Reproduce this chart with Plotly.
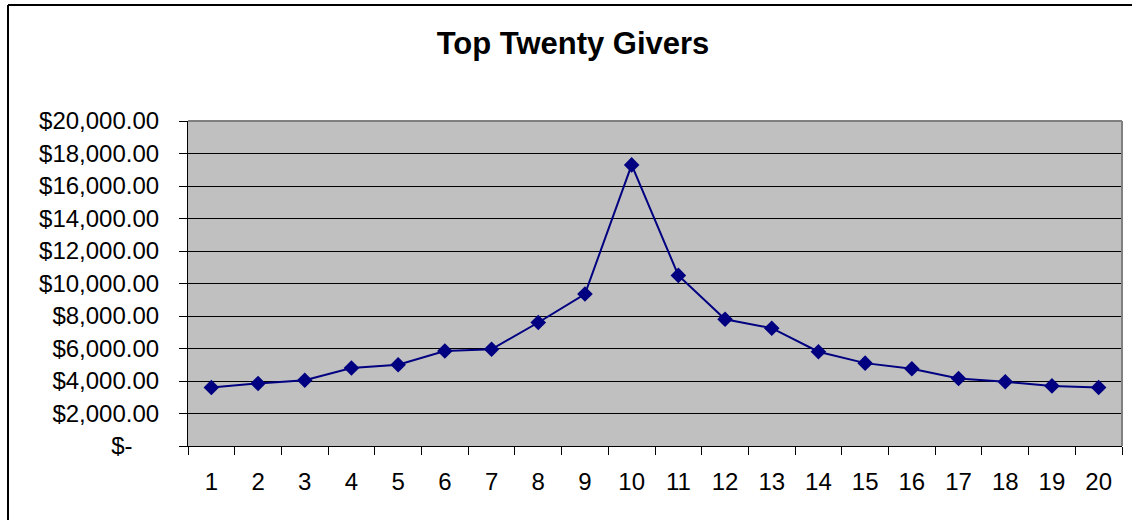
import plotly.graph_objects as go

# Gift totals for the top twenty givers, in giver order
givers = [str(i) for i in range(1, 21)]
amounts = [3600, 3850, 4050, 4800, 5000, 5850, 5950, 7600, 9350, 17300,
           10500, 7800, 7250, 5800, 5100, 4750, 4150, 3950, 3700, 3600]

# Value axis ticks in accounting style
y_ticks = list(range(0, 20001, 2000))
y_tick_labels = ["$-\u2007\u2007" if v == 0 else f"${v:,.2f}" for v in y_ticks]

W, H = 1133, 521
ML, MR, MT, MB = 188, 11, 121, 75
PW, PH = W - ML - MR, H - MT - MB


def px_to_paper(x, y):
    return (x - ML) / PW, (H - MB - y) / PH


FONT = "Liberation Sans, Arial, sans-serif"
NAVY = "#000080"

fig = go.Figure(
    go.Scatter(
        x=givers,
        y=amounts,
        mode="lines+markers",
        line=dict(color=NAVY, width=2),
        marker=dict(symbol="diamond", size=12, color=NAVY),
        hoverinfo="x+y",
    )
)

# Chart frame: top and left edges of the outer border
fx0, fy0 = px_to_paper(8, 5)
fx1, fy1 = px_to_paper(W - 1, H - 1)
frame = dict(color="black", width=2)
fig.add_shape(type="line", xref="paper", yref="paper",
              x0=fx0, y0=fy0, x1=fx1, y1=fy0, line=frame, layer="above")
fig.add_shape(type="line", xref="paper", yref="paper",
              x0=fx0, y0=fy0, x1=fx0, y1=fy1, line=frame, layer="above")

# Plot-area border on the top and right sides
border = dict(color="#808080", width=2)
fig.add_shape(type="line", xref="paper", yref="paper",
              x0=0, y0=1, x1=1, y1=1, line=border, layer="above")
fig.add_shape(type="line", xref="paper", yref="paper",
              x0=1, y0=1, x1=1, y1=0, line=border, layer="above")

fig.update_layout(
    width=W,
    height=H,
    margin=dict(l=ML, r=MR, t=MT, b=MB),
    paper_bgcolor="white",
    plot_bgcolor="#C0C0C0",
    showlegend=False,
    font=dict(family=FONT, color="black", size=24),
    title=dict(
        text="<b>Top Twenty Givers</b>",
        font=dict(family=FONT, size=31, color="black"),
        x=573 / W,
        xanchor="center",
        xref="container",
        y=1 - 43 / H,
        yanchor="middle",
    ),
    xaxis=dict(
        type="category",
        range=[-0.5, 19.5],
        tickson="boundaries",
        ticks="outside",
        ticklen=8,
        tickcolor="black",
        tickwidth=1,
        showline=True,
        linecolor="black",
        linewidth=1,
        showgrid=False,
        zeroline=False,
        ticklabelstandoff=14,
        tickfont=dict(family=FONT, size=24, color="black"),
        fixedrange=True,
    ),
    yaxis=dict(
        range=[0, 20000],
        tickvals=y_ticks,
        ticktext=y_tick_labels,
        ticks="outside",
        ticklen=8,
        tickcolor="black",
        tickwidth=1,
        showline=True,
        linecolor="black",
        linewidth=1,
        showgrid=True,
        gridcolor="black",
        gridwidth=1,
        zeroline=False,
        ticklabelstandoff=15,
        tickfont=dict(family=FONT, size=24, color="black"),
        fixedrange=True,
    ),
)

fig.write_html("out.html", config={"displayModeBar": False})
